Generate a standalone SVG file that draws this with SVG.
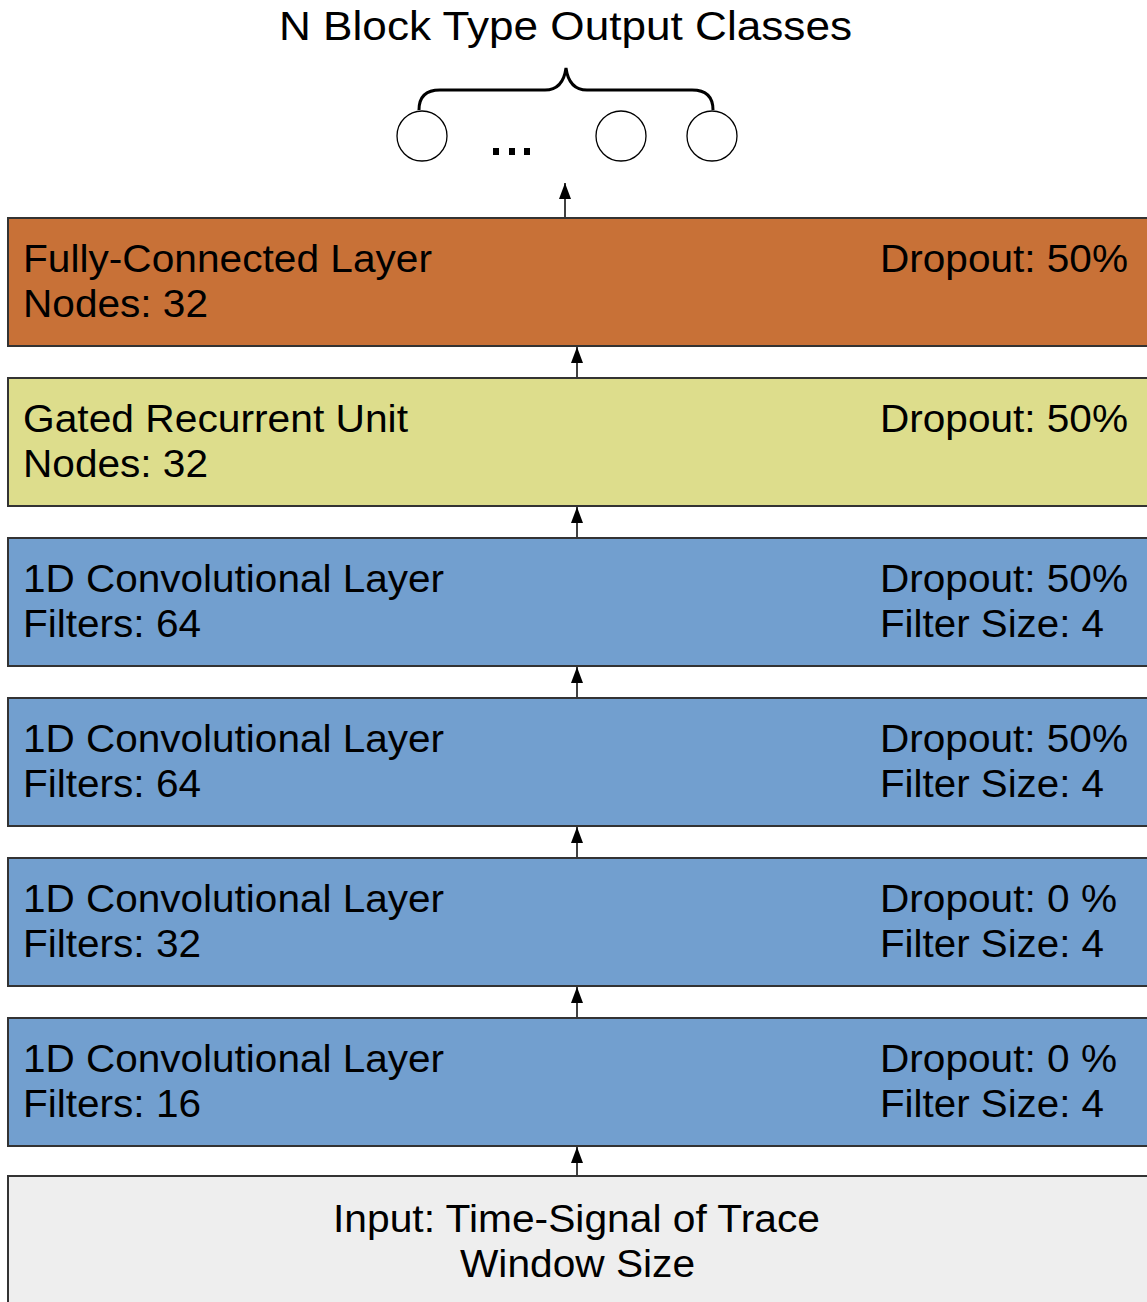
<svg xmlns="http://www.w3.org/2000/svg" width="1147" height="1302" viewBox="0 0 1147 1302">
<style>
text{font-family:"Liberation Sans",Arial,sans-serif;font-size:38px;fill:#000}
.box{stroke:#333;stroke-width:2}
.c{fill:#fff;stroke:#000;stroke-width:1.3}
.ln{stroke:#000;stroke-width:1.5;fill:none}
</style>
<defs>
<marker id="ah" viewBox="0 0 10 10" refX="10" refY="5" markerWidth="16" markerHeight="12" markerUnits="userSpaceOnUse" orient="auto" preserveAspectRatio="none">
<path d="M0,0 L10,5 L0,10 z" fill="#000"/>
</marker>
</defs>
<rect width="1147" height="1302" fill="#fff"/>
<g id="output">
<text x="279" y="40" textLength="573" lengthAdjust="spacingAndGlyphs" style="font-size:40px">N Block Type Output Classes</text>
<path d="M419,110 Q419,90 440,90 L545,90 Q563,90 566,68 Q569,90 587,90 L692,90 Q713,90 713,110" fill="none" stroke="#000" stroke-width="3"/>
<circle class="c" cx="422" cy="136" r="25"/>
<circle class="c" cx="621" cy="136" r="25"/>
<circle class="c" cx="712" cy="136" r="25"/>
<rect x="493" y="148" width="6" height="7" fill="#000"/>
<rect x="509" y="148" width="6" height="7" fill="#000"/>
<rect x="524" y="148" width="6" height="7" fill="#000"/>
</g>
<g id="fc">
<rect class="box" x="8" y="218" width="1145" height="128" fill="#C87137"/>
<text x="23" y="272" textLength="409" lengthAdjust="spacingAndGlyphs">Fully-Connected Layer</text>
<text x="23" y="317" textLength="185" lengthAdjust="spacingAndGlyphs">Nodes: 32</text>
<text x="880" y="272" textLength="248" lengthAdjust="spacingAndGlyphs">Dropout: 50%</text>
</g>
<g id="gru">
<rect class="box" x="8" y="378" width="1145" height="128" fill="#DDDD8C"/>
<text x="23" y="432" textLength="385" lengthAdjust="spacingAndGlyphs">Gated Recurrent Unit</text>
<text x="23" y="477" textLength="185" lengthAdjust="spacingAndGlyphs">Nodes: 32</text>
<text x="880" y="432" textLength="248" lengthAdjust="spacingAndGlyphs">Dropout: 50%</text>
</g>
<g id="conv4">
<rect class="box" x="8" y="538" width="1145" height="128" fill="#729FCF"/>
<text x="23" y="592" textLength="421" lengthAdjust="spacingAndGlyphs">1D Convolutional Layer</text>
<text x="23" y="637" textLength="178" lengthAdjust="spacingAndGlyphs">Filters: 64</text>
<text x="880" y="592" textLength="248" lengthAdjust="spacingAndGlyphs">Dropout: 50%</text>
<text x="880" y="637" textLength="224" lengthAdjust="spacingAndGlyphs">Filter Size: 4</text>
</g>
<g id="conv3">
<rect class="box" x="8" y="698" width="1145" height="128" fill="#729FCF"/>
<text x="23" y="752" textLength="421" lengthAdjust="spacingAndGlyphs">1D Convolutional Layer</text>
<text x="23" y="797" textLength="178" lengthAdjust="spacingAndGlyphs">Filters: 64</text>
<text x="880" y="752" textLength="248" lengthAdjust="spacingAndGlyphs">Dropout: 50%</text>
<text x="880" y="797" textLength="224" lengthAdjust="spacingAndGlyphs">Filter Size: 4</text>
</g>
<g id="conv2">
<rect class="box" x="8" y="858" width="1145" height="128" fill="#729FCF"/>
<text x="23" y="912" textLength="421" lengthAdjust="spacingAndGlyphs">1D Convolutional Layer</text>
<text x="23" y="957" textLength="178" lengthAdjust="spacingAndGlyphs">Filters: 32</text>
<text x="880" y="912" textLength="237" lengthAdjust="spacingAndGlyphs">Dropout: 0 %</text>
<text x="880" y="957" textLength="224" lengthAdjust="spacingAndGlyphs">Filter Size: 4</text>
</g>
<g id="conv1">
<rect class="box" x="8" y="1018" width="1145" height="128" fill="#729FCF"/>
<text x="23" y="1072" textLength="421" lengthAdjust="spacingAndGlyphs">1D Convolutional Layer</text>
<text x="23" y="1117" textLength="178" lengthAdjust="spacingAndGlyphs">Filters: 16</text>
<text x="880" y="1072" textLength="237" lengthAdjust="spacingAndGlyphs">Dropout: 0 %</text>
<text x="880" y="1117" textLength="224" lengthAdjust="spacingAndGlyphs">Filter Size: 4</text>
</g>
<g id="input">
<rect class="box" x="8" y="1176" width="1145" height="140" fill="#EEEEEE"/>
<text x="333" y="1232" textLength="487" lengthAdjust="spacingAndGlyphs">Input: Time-Signal of Trace</text>
<text x="460" y="1277" textLength="235" lengthAdjust="spacingAndGlyphs">Window Size</text>
</g>
<g id="connectors">
<line class="ln" x1="565" y1="217" x2="565" y2="183" marker-end="url(#ah)"/>
<line class="ln" x1="577" y1="377" x2="577" y2="347" marker-end="url(#ah)"/>
<line class="ln" x1="577" y1="537" x2="577" y2="507" marker-end="url(#ah)"/>
<line class="ln" x1="577" y1="697" x2="577" y2="667" marker-end="url(#ah)"/>
<line class="ln" x1="577" y1="857" x2="577" y2="827" marker-end="url(#ah)"/>
<line class="ln" x1="577" y1="1017" x2="577" y2="987" marker-end="url(#ah)"/>
<line class="ln" x1="577" y1="1175" x2="577" y2="1147" marker-end="url(#ah)"/>
</g>
</svg>
